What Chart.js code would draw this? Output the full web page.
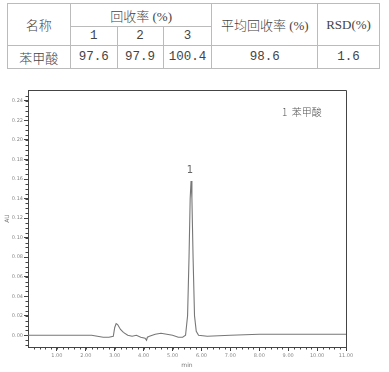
<!DOCTYPE html>
<html><head><meta charset="utf-8">
<script src="https://cdn.jsdelivr.net/npm/chart.js@4.4.1/dist/chart.umd.min.js"></script>
<style>
html,body{margin:0;padding:0;background:#fff;width:389px;height:372px;overflow:hidden;}
#tbl{position:absolute;left:7px;top:3px;border-collapse:collapse;color:#444;font-family:"Liberation Serif","Noto Sans CJK SC",serif;font-size:13px;font-weight:300;}
#tbl td{border:1px solid #bbb;text-align:center;padding:0;}
.num{font-family:"Liberation Mono","DejaVu Sans Mono",monospace;font-size:12.5px;}
#wrap{position:absolute;left:0;top:80px;width:389px;height:292px;}
#legend{position:absolute;left:282px;top:104px;font-family:"Noto Sans CJK SC",sans-serif;font-size:10px;font-weight:300;color:#555;}
</style></head>
<body>
<table id="tbl"></table>
<div id="wrap"><canvas id="c" width="389" height="292"></canvas></div>
<div id="legend">1&nbsp;&nbsp;苯甲酸</div>
<script>
// ---- table data ----
const tableHeader = ["名称", "回收率 (%)", "平均回收率 (%)", "RSD(%)"];
const runLabels = ["1", "2", "3"];
const compound = "苯甲酸";
const recoveries = ["97.6", "97.9", "100.4"];
const meanRecovery = "98.6";
const rsd = "1.6";

// ---- chromatogram data ----
const times = [0, 0.5, 1.0, 1.5, 2.0, 2.2, 2.4, 2.6, 2.8, 2.95, 3.0, 3.05, 3.1, 3.2, 3.3, 3.45, 3.6, 3.75, 3.9, 4.05, 4.1, 4.13, 4.2, 4.4, 4.6, 4.8, 5.0, 5.2, 5.35, 5.45, 5.52, 5.57, 5.61, 5.64, 5.67, 5.71, 5.76, 5.82, 5.9, 6.2, 7.0, 8.0, 9.0, 10.0, 11.0];
const absorbance = [0.000, 0.000, 0.000, 0.000, 0.000, 0.000, -0.001, -0.002, -0.002, -0.001, 0.008, 0.012, 0.011, 0.006, 0.003, 0.000, -0.001, 0.000, -0.002, -0.003, -0.005, -0.002, -0.001, 0.001, 0.002, 0.001, 0.000, -0.002, -0.002, 0.000, 0.020, 0.080, 0.140, 0.158, 0.140, 0.080, 0.020, 0.004, 0.000, -0.001, 0.000, 0.001, 0.001, 0.001, 0.001];
const xTickValues = [1, 2, 3, 4, 5, 6, 7, 8, 9, 10, 11];
const yTickValues = [0, 0.02, 0.04, 0.06, 0.08, 0.10, 0.12, 0.14, 0.16, 0.18, 0.20, 0.22, 0.24];
const peakLabel = "1";
const peakTime = 5.64;
const peakValue = 0.158;

// build table
const tbl = document.getElementById('tbl');
const colW = [63, 47, 46, 49, 106, 62];
let html = '<colgroup>' + colW.map(w => `<col style="width:${w}px">`).join('') + '</colgroup>';
html += `<tr style="height:23px"><td rowspan="2">${tableHeader[0]}</td><td colspan="3">${tableHeader[1]}</td><td rowspan="2">${tableHeader[2]}</td><td rowspan="2">${tableHeader[3]}</td></tr>`;
html += '<tr style="height:19px">' + runLabels.map(r => `<td class="num">${r}</td>`).join('') + '</tr>';
html += `<tr style="height:23px"><td>${compound}</td>` + recoveries.map(v => `<td class="num">${v}</td>`).join('') + `<td class="num">${meanRecovery}</td><td class="num">${rsd}</td></tr>`;
tbl.innerHTML = html;
tbl.style.width = colW.reduce((a, b) => a + b, 0) + 'px';

const axisColor = '#444';
const framePlugin = {
  id: 'frame',
  afterDraw(chart) {
    const { ctx, chartArea: a, scales: { x, y } } = chart;
    ctx.save();
    ctx.strokeStyle = axisColor;
    ctx.lineWidth = 1;
    ctx.beginPath();
    ctx.moveTo(a.left, a.top + 0.5); ctx.lineTo(a.right + 0.5, a.top + 0.5);
    ctx.lineTo(a.right + 0.5, a.bottom);
    ctx.stroke();
    // minor ticks
    ctx.beginPath();
    for (let v = 0.2; v < 11; v += 0.2) {
      const px = Math.round(x.getPixelForValue(v)) + 0.5;
      ctx.moveTo(px, a.bottom); ctx.lineTo(px, a.bottom + 2.5);
    }
    for (let v = -0.01; v < 0.25; v += 0.005) {
      const py = Math.round(y.getPixelForValue(v)) + 0.5;
      ctx.moveTo(a.left, py); ctx.lineTo(a.left - 2.5, py);
    }
    ctx.stroke();
    // peak label
    ctx.fillStyle = '#666';
    ctx.font = '10px "DejaVu Sans", sans-serif';
    ctx.textAlign = 'center';
    ctx.textBaseline = 'bottom';
    ctx.fillText(peakLabel, x.getPixelForValue(peakTime) - 1, y.getPixelForValue(peakValue) - 6);
    ctx.restore();
  }
};

const tickFont = { family: '"DejaVu Sans", sans-serif', size: 5 };
new Chart(document.getElementById('c'), {
  type: 'line',
  data: {
    datasets: [{
      data: times.map((t, i) => ({ x: t, y: absorbance[i] })),
      borderColor: '#777',
      borderWidth: 1.1,
      pointRadius: 0,
      tension: 0,
      fill: false
    }]
  },
  options: {
    responsive: false,
    animation: false,
    layout: { padding: { left: 0, right: 43, top: 10, bottom: 0 } },
    plugins: { legend: { display: false }, tooltip: { enabled: false } },
    scales: {
      x: {
        type: 'linear', min: 0, max: 11,
        afterBuildTicks: s => { s.ticks = xTickValues.map(v => ({ value: v })); },
        afterFit: s => { s.height = 25; },
        ticks: { font: tickFont, color: '#888', padding: 2, maxRotation: 0, autoSkip: false, callback: v => v.toFixed(2) },
        grid: { drawOnChartArea: false, tickLength: 4, color: axisColor },
        border: { display: true, color: axisColor, width: 1 },
        title: { display: true, text: 'min', font: { family: '"DejaVu Sans", sans-serif', size: 6 }, color: '#777', padding: { top: 0, bottom: 3 } }
      },
      y: {
        type: 'linear', min: -0.012, max: 0.2512,
        afterBuildTicks: s => { s.ticks = yTickValues.map(v => ({ value: v })); },
        afterFit: s => { s.width = 28; },
        ticks: { font: tickFont, color: '#888', padding: 1, autoSkip: false, callback: v => v.toFixed(2) },
        grid: { drawOnChartArea: false, tickLength: 4, color: axisColor },
        border: { display: true, color: axisColor, width: 1 },
        title: { display: true, text: 'AU', font: { family: '"DejaVu Sans", sans-serif', size: 6 }, color: '#777', padding: { top: 4, bottom: 0 } }
      }
    }
  },
  plugins: [framePlugin]
});
</script>
</body></html>
